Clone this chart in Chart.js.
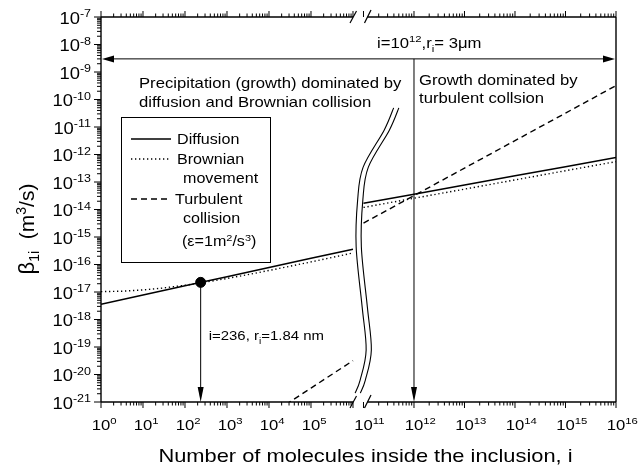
<!DOCTYPE html>
<html>
<head>
<meta charset="utf-8">
<script src="https://cdn.jsdelivr.net/npm/chart.js@4.4.1/dist/chart.umd.min.js"></script>
<style>
  html, body { margin: 0; padding: 0; background: #fff; }
  #wrap { width: 643px; height: 471px; }
</style>
</head>
<body>
<div id="wrap"><canvas id="betaChart" width="643" height="471"></canvas></div>
<script>
// Values (beta_1i in m^3/s against number of molecules i)
const leftI = [1, 10, 100, 1e3, 1e4, 1e5, 1e6];
const rightI = [1e11, 1e12, 1e13, 1e14, 1e15, 1e16];

const diffusionLeft = [3.6e-18, 7.8e-18, 1.7e-17, 3.6e-17, 7.8e-17, 1.7e-16, 3.6e-16];
const diffusionRight = [1.7e-14, 3.6e-14, 7.8e-14, 1.7e-13, 3.6e-13, 7.8e-13];

const brownianLeftI = [1, 3.16, 10, 31.6, 100, 316, 1e3, 3.16e3, 1e4, 3.16e4, 1e5, 3.16e5, 1e6];
const brownianLeft = [1.03e-17, 1.07e-17, 1.19e-17, 1.41e-17, 1.76e-17, 2.3e-17, 3.1e-17, 4.3e-17, 6.06e-17, 8.65e-17, 1.24e-16, 1.8e-16, 2.63e-16];
const brownianRight = [1.19e-14, 2.57e-14, 5.5e-14, 1.19e-13, 2.57e-13, 5.5e-13];

const turbulentLeft = [null, null, null, null, 3.2e-22, 3.2e-21, 3.2e-20];
const turbulentRight = [3.2e-15, 3.2e-14, 3.2e-13, 3.2e-12, 3.2e-11, 3.2e-10];

const markerI = [236];
const markerBeta = [2.24e-17];

// tick exponents
const xTickExpLeft = [0, 1, 2, 3, 4, 5, 6];
const xTickExpRight = [11, 12, 13, 14, 15, 16];
const xLabelExpLeft = [0, 1, 2, 3, 4, 5];
const yTickExp = [-21, -20, -19, -18, -17, -16, -15, -14, -13, -12, -11, -10, -9, -8, -7];

const arrowBeta = 3e-9;   // level of the i=10^12 double arrow
const bigI = 1e12;

const FONT = '"Liberation Sans", Arial, Helvetica, sans-serif';
const SX = 1.15; // the original figure is a bit stretched sideways

function toPoints(xs, ys) {
  return xs.map((x, k) => ({ x: x, y: ys[k] })).filter((p) => p.y !== null);
}

// draws text made of plain / superscript / subscript parts
function richText(ctx, parts, x, y, size, align) {
  const small = size * 0.68;
  let total = 0;
  const widths = parts.map((p) => {
    ctx.font = (p.sup || p.sub ? small : size) + "px " + FONT;
    const w = ctx.measureText(p.t).width * SX;
    total += w;
    return w;
  });
  let cx = x;
  if (align === "center") cx = x - total / 2;
  if (align === "right") cx = x - total;
  parts.forEach((p, k) => {
    const dy = p.sup ? -size * 0.38 : p.sub ? size * 0.28 : 0;
    ctx.save();
    ctx.translate(cx, y + dy);
    ctx.scale(SX, 1);
    ctx.font = (p.sup || p.sub ? small : size) + "px " + FONT;
    ctx.textAlign = "left";
    ctx.textBaseline = "alphabetic";
    ctx.fillText(p.t, 0, 0);
    ctx.restore();
    cx += widths[k];
  });
  return total;
}

function textWidth(ctx, s, size) {
  ctx.font = size + "px " + FONT;
  return ctx.measureText(s).width * SX;
}

function line(ctx, x1, y1, x2, y2) {
  ctx.beginPath();
  ctx.moveTo(x1, y1);
  ctx.lineTo(x2, y2);
  ctx.stroke();
}

function head(ctx, x, y, dir, len, half) {
  ctx.beginPath();
  ctx.moveTo(x, y);
  if (dir === "down") {
    ctx.lineTo(x - half, y - len);
    ctx.lineTo(x + half, y - len);
  } else if (dir === "left") {
    ctx.lineTo(x + len, y - half);
    ctx.lineTo(x + len, y + half);
  } else {
    ctx.lineTo(x - len, y - half);
    ctx.lineTo(x - len, y + half);
  }
  ctx.closePath();
  ctx.fill();
}

function smoothPath(ctx, pts) {
  ctx.moveTo(pts[0].x, pts[0].y);
  for (let i = 0; i < pts.length - 1; i++) {
    const p0 = pts[i - 1] || pts[i];
    const p1 = pts[i];
    const p2 = pts[i + 1];
    const p3 = pts[i + 2] || p2;
    ctx.bezierCurveTo(
      p1.x + (p2.x - p0.x) / 6, p1.y + (p2.y - p0.y) / 6,
      p2.x - (p3.x - p1.x) / 6, p2.y - (p3.y - p1.y) / 6,
      p2.x, p2.y
    );
  }
}

const axesPlugin = {
  id: "axesPlugin",
  afterDraw(chart) {
    const ctx = chart.ctx;
    const area = chart.chartArea;
    const xL = chart.scales.xL;
    const xR = chart.scales.xR;
    const y = chart.scales.y;
    const breakL = xL.getPixelForValue(1e6);
    const breakR = xR.getPixelForValue(1e11) - 2;

    ctx.save();
    ctx.strokeStyle = "#000";
    ctx.fillStyle = "#000";

    // annotation arrows
    ctx.lineWidth = 1;
    const ya = y.getPixelForValue(arrowBeta);
    line(ctx, area.left + 8, ya, area.right - 8, ya);
    head(ctx, area.left + 1, ya, "left", 12, 3.5);
    head(ctx, area.right - 1, ya, "right", 12, 3.5);
    const xb = xR.getPixelForValue(bigI);
    line(ctx, xb, ya, xb, area.bottom - 10);
    head(ctx, xb, area.bottom, "down", 15, 3);
    const xm = xL.getPixelForValue(markerI[0]);
    const ym = y.getPixelForValue(markerBeta[0]);
    line(ctx, xm, ym, xm, area.bottom - 10);
    head(ctx, xm, area.bottom, "down", 15, 3);

    // wavy break band
    const bx = (breakL + breakR) / 2 + 1;
    const wave = [
      [0.236, 38], [0.294, 28.5], [0.39, 7.5], [0.475, 2], [0.597, 0.5],
      [0.753, 6.5], [0.865, 10.5], [0.943, 4.5], [0.977, -0.5]
    ];
    const h = area.bottom - area.top;
    [-2.6, 2.6].forEach((off) => {
      ctx.beginPath();
      smoothPath(ctx, wave.map((w) => ({ x: bx + w[1] + off, y: area.top + w[0] * h })));
      ctx.lineWidth = 1.1;
      ctx.stroke();
    });

    // frame
    ctx.lineWidth = 1.4;
    line(ctx, area.left, area.top, area.left, area.bottom);
    line(ctx, area.right, area.top, area.right, area.bottom);
    [area.top, area.bottom].forEach((yy) => {
      line(ctx, area.left, yy, breakL, yy);
      line(ctx, breakR + 6, yy, area.right, yy);
      ctx.lineWidth = 1.2;
      line(ctx, breakL - 3, yy + 6, breakL + 3.5, yy - 6);
      line(ctx, breakR + 3, yy + 6, breakR + 9.5, yy - 7);
      ctx.lineWidth = 1.4;
    });

    // x ticks (bottom outward and top outward)
    ctx.lineWidth = 1;
    const xTicks = (scale, exps) => {
      exps.forEach((e, k) => {
        const px = scale.getPixelForValue(Math.pow(10, e));
        line(ctx, px, area.bottom, px, area.bottom + 6);
        line(ctx, px, area.top, px, area.top - 6);
        if (k < exps.length - 1) {
          for (let m = 2; m <= 9; m++) {
            const pm = scale.getPixelForValue(m * Math.pow(10, e));
            line(ctx, pm, area.bottom, pm, area.bottom + 3.5);
            line(ctx, pm, area.top, pm, area.top - 3.5);
          }
        }
      });
    };
    xTicks(xL, xTickExpLeft);
    xTicks(xR, xTickExpRight);

    // y ticks (left outward)
    yTickExp.forEach((e, k) => {
      const py = y.getPixelForValue(Math.pow(10, e));
      line(ctx, area.left - 7, py, area.left, py);
      if (k < yTickExp.length - 1) {
        for (let m = 2; m <= 9; m++) {
          const pm = y.getPixelForValue(m * Math.pow(10, e));
          line(ctx, area.left - 4, pm, area.left, pm);
        }
      }
    });

    // tick labels
    const xs = 14.5;
    const xLabel = (scale, e) => {
      const px = scale.getPixelForValue(Math.pow(10, e));
      const w10 = textWidth(ctx, "10", xs);
      richText(ctx, [{ t: "10" }, { t: String(e), sup: true }], px - w10 / 2, area.bottom + 28, xs, "left");
    };
    xLabelExpLeft.forEach((e) => xLabel(xL, e));
    xTickExpRight.forEach((e) => xLabel(xR, e));

    const ys = 16;
    yTickExp.forEach((e) => {
      const py = y.getPixelForValue(Math.pow(10, e));
      richText(ctx, [{ t: "10" }, { t: String(e), sup: true }], area.left - 10, py + 6.5, ys, "right");
    });

    // axis titles
    richText(ctx, [{ t: "Number of molecules inside the inclusion, i" }], (area.left + area.right) / 2 + 7, 462, 19, "center");
    ctx.save();
    ctx.translate(27, 229);
    ctx.rotate(-Math.PI / 2);
    const ty = 7;
    const tParts = [
      { t: "\u03b2", s: 22 }, { t: "1i", s: 14, dy: 5 }, { t: "  (m", s: 21 },
      { t: "3", s: 14, dy: -8 }, { t: "/s)", s: 21 }
    ];
    let tw = 0;
    tParts.forEach((p) => { ctx.font = p.s + "px " + FONT; p.w = ctx.measureText(p.t).width; tw += p.w; });
    let tx = -tw / 2;
    ctx.textBaseline = "alphabetic";
    tParts.forEach((p) => {
      ctx.font = p.s + "px " + FONT;
      ctx.fillText(p.t, tx, ty + (p.dy || 0));
      tx += p.w;
    });
    ctx.restore();

    // text annotations
    const as = 14.5;
    richText(ctx, [{ t: "i=10" }, { t: "12", sup: true }, { t: ",r" }, { t: "i", sub: true }, { t: "= 3\u03bcm" }],
      xb - 37, ya - 11, as, "left");
    richText(ctx, [{ t: "Precipitation (growth) dominated by" }], area.left + 38, 88, as, "left");
    richText(ctx, [{ t: "diffusion and Brownian collision" }], area.left + 38, 107, as, "left");
    richText(ctx, [{ t: "Growth dominated by" }], xb + 5, 85, as, "left");
    richText(ctx, [{ t: "turbulent collsion" }], xb + 5, 103, as, "left");
    richText(ctx, [{ t: "i=236, r" }, { t: "i", sub: true }, { t: "=1.84 nm" }], xm + 8, 340, 13, "left");

    // legend box
    const lx = area.left + 20, ly = area.top + 100;
    ctx.lineWidth = 1;
    ctx.strokeRect(lx + 0.5, ly + 0.5, 149, 145);
    const ls = 14;
    const sample = (yy, dash, lw) => {
      ctx.save();
      ctx.setLineDash(dash);
      ctx.lineWidth = lw;
      line(ctx, lx + 10, yy, lx + 50, yy);
      ctx.restore();
    };
    sample(ly + 22, [], 1.5);
    richText(ctx, [{ t: "Diffusion" }], lx + 56, ly + 27, ls, "left");
    sample(ly + 42, [1.3, 2.7], 1.4);
    richText(ctx, [{ t: "Brownian" }], lx + 56, ly + 47, ls, "left");
    richText(ctx, [{ t: "movement" }], lx + 62, ly + 66, ls, "left");
    sample(ly + 82, [6, 4], 1.4);
    richText(ctx, [{ t: "Turbulent" }], lx + 54, ly + 87, ls, "left");
    richText(ctx, [{ t: "collision" }], lx + 62, ly + 106, ls, "left");
    richText(ctx, [{ t: "(\u03b5=1m" }, { t: "2", sup: true }, { t: "/s" }, { t: "3", sup: true }, { t: ")" }],
      lx + 61, ly + 129, ls, "left");

    ctx.restore();
  },
};

const solid = { borderColor: "#000", borderWidth: 1.5, pointRadius: 0, fill: false };
const dotted = { borderColor: "#000", borderWidth: 1.4, borderDash: [1.3, 2.7], pointRadius: 0, fill: false };
const dashed = { borderColor: "#000", borderWidth: 1.4, borderDash: [6, 4], pointRadius: 0, fill: false };

new Chart(document.getElementById("betaChart"), {
  type: "line",
  data: {
    datasets: [
      Object.assign({ label: "Diffusion", data: toPoints(leftI, diffusionLeft), xAxisID: "xL" }, solid),
      Object.assign({ label: "Diffusion", data: toPoints(rightI, diffusionRight), xAxisID: "xR" }, solid),
      Object.assign({ label: "Brownian movement", data: toPoints(brownianLeftI, brownianLeft), xAxisID: "xL" }, dotted),
      Object.assign({ label: "Brownian movement", data: toPoints(rightI, brownianRight), xAxisID: "xR" }, dotted),
      Object.assign({ label: "Turbulent collision", data: toPoints(leftI, turbulentLeft), xAxisID: "xL" }, dashed),
      Object.assign({ label: "Turbulent collision", data: toPoints(rightI, turbulentRight), xAxisID: "xR" }, dashed),
      {
        label: "i=236",
        data: toPoints(markerI, markerBeta),
        xAxisID: "xL",
        showLine: false,
        pointRadius: 5,
        pointBackgroundColor: "#000",
        pointBorderColor: "#000",
      },
    ],
  },
  options: {
    responsive: false,
    animation: false,
    layout: { padding: { left: 101, right: 27, top: 17, bottom: 69 } },
    plugins: { legend: { display: false }, tooltip: { enabled: false } },
    scales: {
      // left part of the broken axis: 10^0 .. 10^6, about 42 px a decade
      xL: { type: "logarithmic", axis: "x", position: "bottom", display: false, min: 1, max: Math.pow(10, 12.262) },
      // right part: 10^11 .. 10^16, about 50.5 px a decade
      xR: { type: "logarithmic", axis: "x", position: "bottom", display: false, min: Math.pow(10, 5.802), max: 1e16 },
      y: { type: "logarithmic", display: false, min: 1e-21, max: 1e-7 },
    },
  },
  plugins: [axesPlugin],
});
</script>
</body>
</html>
